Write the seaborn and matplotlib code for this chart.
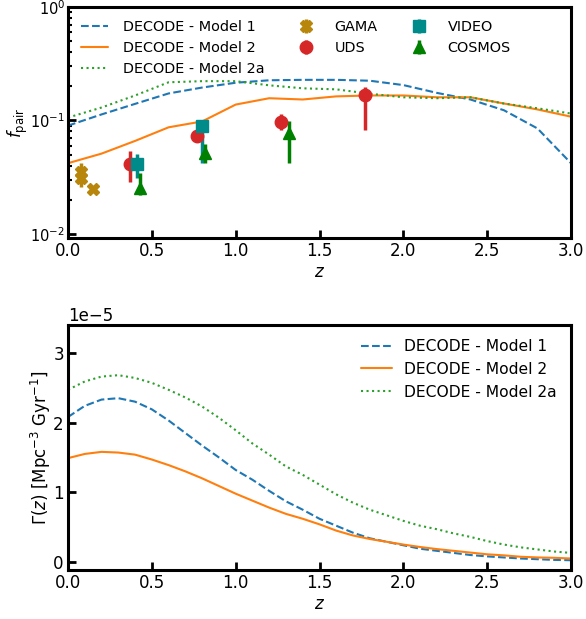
import numpy as np
import pandas as pd
import matplotlib
matplotlib.use("Agg")
import matplotlib.pyplot as plt
import seaborn as sns

# ---------------- data: top panel (pair fraction) ----------------
z_top = [0.0, 0.2, 0.4, 0.6, 0.8, 1.0, 1.2, 1.4, 1.6, 1.8, 2.0, 2.2, 2.4, 2.6, 2.8, 3.0]
fpair_m1 = [0.090, 0.113, 0.140, 0.173, 0.195, 0.215, 0.226, 0.228, 0.228, 0.224,
            0.205, 0.175, 0.153, 0.123, 0.085, 0.042]
fpair_m2 = [0.042, 0.051, 0.066, 0.087, 0.098, 0.138, 0.157, 0.153, 0.163, 0.166,
            0.166, 0.160, 0.160, 0.141, 0.125, 0.108]
fpair_m2a = [0.106, 0.130, 0.166, 0.217, 0.222, 0.222, 0.204, 0.192, 0.188, 0.172,
             0.160, 0.157, 0.160, 0.141, 0.128, 0.115]

gama_z = [0.075, 0.075, 0.15]
gama_f = [0.0352, 0.0312, 0.0247]
gama_lo = [0.0300, 0.0261, 0.0232]
gama_hi = [0.0418, 0.0365, 0.0262]

uds_z = [0.37, 0.77, 1.27, 1.77]
uds_f = [0.0410, 0.0726, 0.097, 0.167]
uds_lo = [0.0288, 0.0650, 0.082, 0.082]
uds_hi = [0.0535, 0.0800, 0.113, 0.197]

video_z = [0.41, 0.80]
video_f = [0.0410, 0.0889]
video_lo = [0.0314, 0.0423]
video_hi = [0.0505, 0.0960]

cosmos_z = [0.43, 0.82, 1.32]
cosmos_f = [0.0252, 0.0512, 0.078]
cosmos_lo = [0.0219, 0.0423, 0.0423]
cosmos_hi = [0.0345, 0.0626, 0.099]

# ---------------- data: bottom panel (merger rate) ----------------
z_bot = [0.0, 0.1, 0.2, 0.3, 0.4, 0.5, 0.6, 0.7, 0.8, 0.9, 1.0, 1.1, 1.2, 1.3, 1.4, 1.5,
         1.6, 1.7, 1.8, 1.9, 2.0, 2.1, 2.2, 2.3, 2.4, 2.5, 2.6, 2.7, 2.8, 2.9, 3.0]
rate_m1 = [2.08, 2.24, 2.33, 2.35, 2.30, 2.19, 2.03, 1.85, 1.67, 1.50, 1.32, 1.18, 1.02,
           0.87, 0.75, 0.62, 0.52, 0.42, 0.34, 0.29, 0.24, 0.19, 0.16, 0.13, 0.10, 0.08,
           0.065, 0.05, 0.04, 0.03, 0.025]
rate_m2 = [1.49, 1.55, 1.58, 1.57, 1.54, 1.47, 1.39, 1.30, 1.20, 1.09, 0.98, 0.88, 0.78,
           0.69, 0.62, 0.54, 0.45, 0.38, 0.33, 0.29, 0.25, 0.215, 0.185, 0.16, 0.135, 0.11,
           0.095, 0.075, 0.065, 0.06, 0.05]
rate_m2a = [2.47, 2.59, 2.66, 2.68, 2.64, 2.57, 2.47, 2.36, 2.23, 2.07, 1.89, 1.70, 1.54,
            1.37, 1.25, 1.11, 0.97, 0.85, 0.75, 0.67, 0.59, 0.52, 0.47, 0.41, 0.36, 0.30,
            0.25, 0.21, 0.18, 0.15, 0.13]
rate_scale = 1e-5

model_names = ["DECODE - Model 1", "DECODE - Model 2", "DECODE - Model 2a"]
model_colors = ["#1f77b4", "#ff7f0e", "#2ca02c"]
model_styles = ["--", "-", ":"]

# ---------------- style ----------------
sns.set_style("ticks")
plt.rcParams["font.family"] = ["DejaVu Sans"]
plt.rcParams["mathtext.fontset"] = "dejavusans"
plt.rcParams.update({
    "axes.edgecolor": "black", "axes.labelcolor": "black", "text.color": "black",
    "xtick.color": "black", "ytick.color": "black",
})

W, H = 586, 619
fig = plt.figure(figsize=(W / 100, H / 100), dpi=100)
ax1 = fig.add_axes([68 / W, 1 - 238 / H, (571 - 68) / W, (238 - 7) / H])
ax2 = fig.add_axes([68 / W, 1 - 570 / H, (571 - 68) / W, (570 - 325) / H])

# ---------------- top panel ----------------
top_models = [fpair_m1, fpair_m2, fpair_m2a]
handles = []
for vals, name, col, ls in zip(top_models, model_names, model_colors, model_styles):
    df = pd.DataFrame({"z": z_top, "f": vals})
    sns.lineplot(data=df, x="z", y="f", ax=ax1, color=col, linestyle=ls, lw=1.5,
                 label=name, legend=False)
    handles.append(ax1.lines[-1])

def errpts(z, f, lo, hi, marker, color, label, ms):
    f = np.asarray(f); lo = np.asarray(lo); hi = np.asarray(hi)
    h = ax1.errorbar(z, f, yerr=[f - lo, hi - f], fmt=marker, color=color, ms=ms,
                     elinewidth=2.5, capsize=0, label=label, mec=color)
    return h

h_gama = errpts(gama_z, gama_f, gama_lo, gama_hi, "X", "#b8860b", "GAMA", 9)
h_uds = errpts(uds_z, uds_f, uds_lo, uds_hi, "o", "#d62728", "UDS", 9)
h_video = errpts(video_z, video_f, video_lo, video_hi, "s", "#008b8b", "VIDEO", 9)
h_cosmos = errpts(cosmos_z, cosmos_f, cosmos_lo, cosmos_hi, "^", "#008000", "COSMOS", 9)

ax1.set_yscale("log")
ax1.set_xlim(0, 3.0)
ax1.set_ylim(0.0092, 1.0)
ax1.set_xticks([0.0, 0.5, 1.0, 1.5, 2.0, 2.5, 3.0])
ax1.set_xlabel(r"$z$", fontsize=12, labelpad=2)
ax1.set_ylabel(r"$f_{\rm pair}$", fontsize=12)
ax1.yaxis.set_label_coords(-0.076, 0.5)
ax1.legend(handles + [h_gama, h_uds, h_video, h_cosmos],
           model_names + ["GAMA", "UDS", "VIDEO", "COSMOS"],
           ncol=3, loc="upper left", frameon=False, fontsize=10.4,
           columnspacing=1.95, handlelength=1.9, handletextpad=1.0,
           borderaxespad=0.5, labelspacing=0.5)

# ---------------- bottom panel ----------------
bot_models = [rate_m1, rate_m2, rate_m2a]
for vals, name, col, ls in zip(bot_models, model_names, model_colors, model_styles):
    df = pd.DataFrame({"z": z_bot, "rate": np.asarray(vals) * rate_scale})
    sns.lineplot(data=df, x="z", y="rate", ax=ax2, color=col, linestyle=ls, lw=1.5,
                 label=name)
ax2.set_xlim(0, 3.0)
ax2.set_ylim(-0.115e-5, 3.4e-5)
ax2.set_xticks([0.0, 0.5, 1.0, 1.5, 2.0, 2.5, 3.0])
ax2.set_yticks([0, 1e-5, 2e-5, 3e-5])
ax2.set_xlabel(r"$z$", fontsize=12, labelpad=2)
ax2.set_ylabel(r"$\Gamma(z)$ [Mpc$^{-3}$ Gyr$^{-1}$]", fontsize=12)
ax2.yaxis.set_label_coords(-0.03, 0.5)
ax2.legend(loc="upper right", frameon=False, fontsize=11.2, labelspacing=0.5,
           borderaxespad=0.5)

for ax in (ax1, ax2):
    for sp in ax.spines.values():
        sp.set_linewidth(2.2)
        sp.set_visible(True)
        sp.set_color("black")
    ax.tick_params(axis="both", which="major", direction="in", length=6, width=2,
                   labelsize=12, top=False, right=False, pad=3, colors="black")
    ax.tick_params(axis="both", which="minor", direction="in", length=3, width=1.5,
                   top=False, right=False, colors="black")
    ax.yaxis.get_offset_text().set_fontsize(12)
ax1.tick_params(axis="y", which="major", pad=2, labelsize=10.5)
ax2.minorticks_off()
ax1.tick_params(axis="x", which="minor", bottom=False)

fig.savefig("out.png", dpi=100)
